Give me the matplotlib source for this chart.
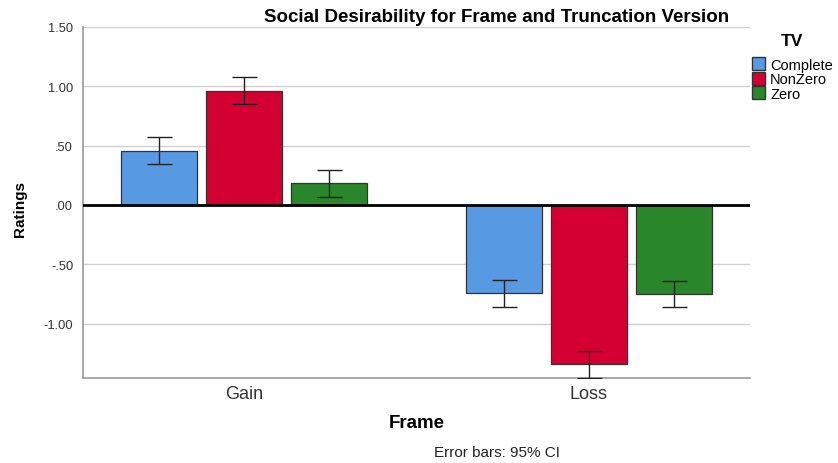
import matplotlib
matplotlib.use("Agg")
import matplotlib.pyplot as plt
import numpy as np
from matplotlib.patches import Patch

plt.rcParams['font.family'] = ['Liberation Sans', 'DejaVu Sans']

frames = ["Gain", "Loss"]
series = ["Complete", "NonZero", "Zero"]
means = {
    "Complete": [0.456, -0.745],
    "NonZero": [0.960, -1.345],
    "Zero": [0.180, -0.750],
}
ci_low = {
    "Complete": [0.340, -0.860],
    "NonZero": [0.850, -1.460],
    "Zero": [0.070, -0.860],
}
ci_high = {
    "Complete": [0.570, -0.630],
    "NonZero": [1.080, -1.230],
    "Zero": [0.290, -0.640],
}
colors = {"Complete": "#5799E3", "NonZero": "#D50032", "Zero": "#2A862A"}
yticks = [1.5, 1.0, 0.5, 0.0, -0.5, -1.0]
ytick_labels = ["1.50", "1.00", ".50", ".00", "-.50", "-1.00"]

fig = plt.figure(figsize=(8.38, 4.64), dpi=100)
ax = fig.add_axes([0.099, 0.183, 0.796, 0.757])

x = np.arange(len(frames))
step = 0.246
width = 0.22
for i, s in enumerate(series):
    pos = x + (i - 1) * step
    m = np.array(means[s])
    lo = m - np.array(ci_low[s])
    hi = np.array(ci_high[s]) - m
    ax.bar(pos, m, width=width, color=colors[s], edgecolor="#333333", linewidth=0.9, zorder=3)
    ax.errorbar(pos, m, yerr=[lo, hi], fmt="none", ecolor="#222222", elinewidth=1.0,
                capsize=9, capthick=1.0, zorder=4)

ax.axhline(0, color="black", linewidth=2.0, zorder=5)
ax.set_xlim(-0.467, 1.467)
ax.set_ylim(-1.46, 1.5)
ax.set_yticks(yticks)
ax.set_yticklabels(ytick_labels, fontsize=9.3, color="#333333")
ax.set_xticks(x)
ax.set_xticklabels(frames, fontsize=13, color="#333333")
ax.tick_params(axis="y", length=0, pad=7)
ax.tick_params(axis="x", length=0, pad=5)
ax.grid(axis="y", color="#d0d0d0", linewidth=1.0, zorder=0)
ax.set_axisbelow(True)
for sp in ["top", "right"]:
    ax.spines[sp].set_visible(False)
ax.spines["left"].set_color("#999999")
ax.spines["left"].set_linewidth(1.2)
ax.spines["bottom"].set_color("#999999")
ax.spines["bottom"].set_linewidth(1.2)

fig.text(20 / 838, 1 - 209 / 464, "Ratings", rotation=90, ha="center", va="center",
         fontsize=11, fontweight="bold")
fig.text(417 / 838, 1 - 424 / 464, "Frame", ha="center", va="center", fontsize=13.5, fontweight="bold")
fig.text(497 / 838, 1 - 17 / 464, "Social Desirability for Frame and Truncation Version",
         ha="center", va="center", fontsize=13.5, fontweight="bold")
fig.text(497 / 838, 1 - 453 / 464, "Error bars: 95% CI", ha="center", va="center", fontsize=11,
         color="#222222")

fig.text(792 / 838, 1 - 41 / 464, "TV", ha="center", va="center", fontsize=12.5, fontweight="bold")
handles = [Patch(facecolor=colors[s], edgecolor="#333333", label=s) for s in series]
leg = fig.legend(handles=handles, loc="upper left", bbox_to_anchor=(752 / 838, 1 - 58 / 464),
                 frameon=False, fontsize=10.5, handlelength=0.9, handleheight=1.0,
                 handletextpad=0.35, labelspacing=0.0, borderaxespad=0, borderpad=0.0)

fig.savefig("out.png", dpi=100)
